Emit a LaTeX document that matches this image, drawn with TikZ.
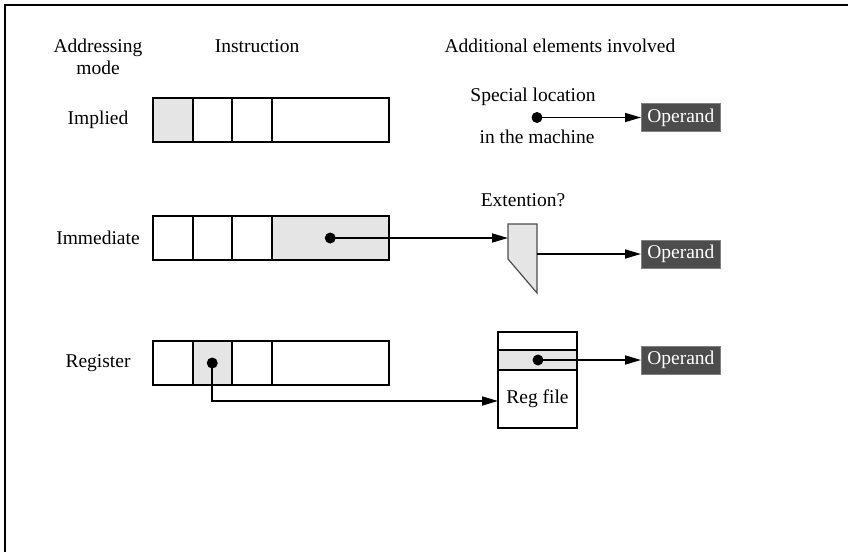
\documentclass[tikz,border=0pt]{standalone}
\usepackage{fontspec}
\setmainfont{Liberation Serif}
\usetikzlibrary{arrows.meta,positioning}
\definecolor{lightfill}{gray}{0.9}
\definecolor{opfill}{gray}{0.3}

\begin{document}
\begin{tikzpicture}[x=0.5pt,y=-0.5pt,
    font=\fontsize{9.75}{11.7}\selectfont,
    cell/.style={draw,line width=1pt,inner sep=0pt,outer sep=0pt,
        minimum height=22pt,minimum width=19.75pt,anchor=west},
    wide/.style={cell,minimum width=58.75pt},
    shade/.style={fill=lightfill},
    operand/.style={draw=gray,fill=opfill,text=white,inner sep=0pt,
        minimum width=39.5pt,minimum height=14pt,anchor=west},
    dot/.style={circle,fill,inner sep=0pt,minimum size=5.5pt},
    arrow/.style={line width=0.8pt,-{Triangle[length=8pt,width=4.5pt]}}]
    \useasboundingbox (0,0) rectangle (848,552);
    \draw[line width=1.2pt] (848,5) -- (5,5) -- (5,552);

    % Headings
    \node[align=center] (hmode) at (98,57) {Addressing\\[-1pt]mode};
    \node (hinstr) at (257,46) {Instruction};
    \node (hextra) at (560,46) {Additional elements involved};

    % Row labels
    \node (limp) at (98,120) {Implied};
    \node (limm) at (98,238) {Immediate};
    \node (lreg) at (98,363) {Register};

    % Instruction words
    \node[cell,shade] (imp1) at (153,120) {};
    \node[cell,right=0pt of imp1] (imp2) {};
    \node[cell,right=0pt of imp2] (imp3) {};
    \node[wide,right=0pt of imp3] (imp4) {};

    \node[cell] (imm1) at (153,238) {};
    \node[cell,right=0pt of imm1] (imm2) {};
    \node[cell,right=0pt of imm2] (imm3) {};
    \node[wide,shade,right=0pt of imm3] (imm4) {};

    \node[cell] (reg1) at (153,363) {};
    \node[cell,shade,right=0pt of reg1] (reg2) {};
    \node[cell,right=0pt of reg2] (reg3) {};
    \node[wide,right=0pt of reg3] (reg4) {};

    % Implied
    \node (spec) at (533,97) {Special location};
    \node (mach) at (537,137) {in the machine};
    \node[dot] (dimp) at (537,117.5) {};
    \node[operand] (op1) at (641,117.5) {Operand};
    \draw[arrow] (dimp.center) -- (op1.west);

    % Immediate
    \node (ext) at (523,200) {Extention?};
    \draw[fill=lightfill,draw=black!70,line width=0.6pt]
        (508,224) -- (537,224) -- (537,293) -- (508,259) -- cycle;
    \coordinate (extin) at (508,238);
    \coordinate (extout) at (537,254);
    \node[dot] (dimm) at (imm4.center) {};
    \node[operand] (op2) at (641,254) {Operand};
    \draw[arrow] (dimm.center) -- (extin);
    \draw[arrow] (extout) -- (op2.west);

    % Register
    \node[draw,line width=1pt,inner sep=0pt,minimum width=39.5pt,
        minimum height=48pt] (regfile) at (537.5,380) {};
    \draw[fill=lightfill,line width=0.6pt] (498,350) rectangle (577,370);
    \node (rftext) at (537.5,399) {Reg file};
    \node[dot] (drf) at (538,360) {};
    \node[operand] (op3) at (641,360) {Operand};
    \draw[arrow] (drf.center) -- (op3.west);
    \coordinate (regin) at (498,401);
    \node[dot] (dreg) at (reg2.center) {};
    \draw[arrow] (dreg.center) |- (regin);
\end{tikzpicture}
\end{document}
